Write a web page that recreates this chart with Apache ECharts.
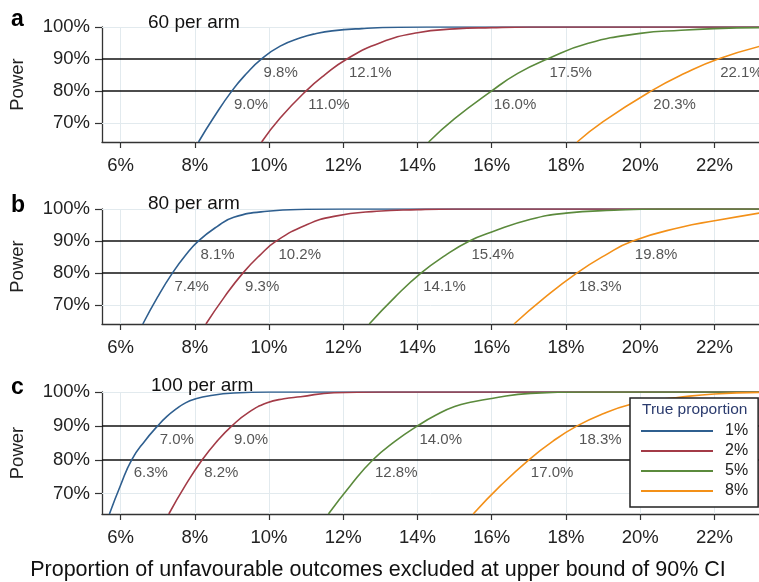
<!DOCTYPE html>
<html><head><meta charset="utf-8">
<script src="https://cdn.jsdelivr.net/npm/echarts@6/dist/echarts.min.js"></script>
<style>html,body{margin:0;padding:0;background:#fff}#c{width:759px;height:582px}</style>
</head><body><div id="c"></div><script>
const proportions = ['1%', '2%', '5%', '8%'];
const colors = ['#2f5f8f', '#a33b47', '#5b8a3c', '#f39018'];
const xTicks = [6, 8, 10, 12, 14, 16, 18, 20, 22];
const yTicks = [70, 80, 90, 100];
const refLines = [80, 90];
const panelTitles = ['60 per arm', '80 per arm', '100 per arm'];
const panelLetters = ['a', 'b', 'c'];
const xTitle = 'Proportion of unfavourable outcomes excluded at upper bound of 90% CI';
const yTitle = 'Power';
const legendTitle = 'True proportion';

// Panel a: 60 per arm
const a1X = [8.1, 8.5, 9.0, 9.4, 9.8, 10.3, 10.85, 11.25, 11.7, 12.5, 13.5, 15.0, 23.3];
const a1Y = [64, 71.5, 80, 85.5, 90, 94, 96.6, 97.9, 98.8, 99.5, 99.9, 100, 100];
const a2X = [9.8, 10.3, 11.0, 11.5, 12.1, 13.0, 14.0, 15.0, 16.0, 17.0, 23.3];
const a2Y = [64, 71.5, 80, 85, 90, 95.1, 98.2, 99.4, 99.8, 100, 100];
const a5X = [14.3, 15.0, 16.0, 16.7, 17.5, 18.6, 20.0, 21.1, 22.0, 23.3];
const a5Y = [64, 71.3, 80, 85.5, 90, 94.9, 98, 99, 99.5, 99.8];
const a8X = [18.3, 19.0, 20.3, 21.2, 22.1, 23.3];
const a8Y = [64, 70.4, 80, 85.5, 90, 94.2];
const a80 = [9.0, 11.0, 16.0, 20.3];
const a90 = [9.8, 12.1, 17.5, 22.1];

// Panel b: 80 per arm
const b1X = [6.6, 7.0, 7.4, 7.75, 8.1, 8.6, 9.05, 9.95, 11.0, 12.0, 23.3];
const b1Y = [64, 72.5, 80, 85.5, 90, 94.5, 97.4, 99.3, 99.9, 100, 100];
const b2X = [8.3, 8.8, 9.3, 9.75, 10.2, 11.0, 11.75, 12.9, 14.0, 15.0, 23.3];
const b2Y = [64, 72.5, 80, 85.5, 90, 95, 97.7, 99.3, 99.8, 100, 100];
const b5X = [12.7, 13.4, 14.1, 14.75, 15.4, 16.0, 17.05, 18.0, 19.3, 20.5, 23.3];
const b5Y = [64, 72.5, 80, 85.5, 90, 92.8, 96.8, 98.7, 99.6, 100, 100];
const b8X = [16.6, 17.4, 18.3, 19.05, 19.8, 21.1, 22.0, 23.3];
const b8Y = [64, 72, 80, 85.5, 90, 94.3, 96.3, 98.9];
const b80 = [7.4, 9.3, 14.1, 18.3];
const b90 = [8.1, 10.2, 15.4, 19.8];

// Panel c: 100 per arm
const c1X = [5.7, 6.0, 6.3, 6.65, 7.0, 7.25, 7.5, 7.75, 8.0, 8.4, 9.05, 10.0, 23.3];
const c1Y = [64, 72.5, 80, 85.5, 90, 92.8, 95, 96.8, 97.9, 98.9, 99.7, 100, 100];
const c2X = [7.3, 7.75, 8.2, 8.6, 9.0, 9.45, 9.95, 10.4, 10.85, 11.75, 13.0, 23.3];
const c2Y = [64, 72.5, 80, 85.5, 90, 94.0, 96.8, 98.0, 98.6, 99.8, 100, 100];
const c5X = [11.6, 12.2, 12.8, 13.4, 14.0, 14.5, 15.0, 15.5, 16.0, 17.05, 18.5, 23.3];
const c5Y = [64, 72.5, 80, 85.5, 90, 93.2, 95.7, 97.1, 98.1, 99.6, 100, 100];
const c8X = [15.5, 16.25, 17.0, 17.65, 18.3, 19.0, 19.75, 20.4, 21.0, 22.0, 23.3];
const c8Y = [64, 72.5, 80, 85.5, 90, 93.6, 96.4, 97.6, 98.4, 99.4, 99.9];
const c80 = [6.3, 8.2, 12.8, 17.0];
const c90 = [7.0, 9.0, 14.0, 18.3];

const panels = [
  { xs: [a1X, a2X, a5X, a8X], ys: [a1Y, a2Y, a5Y, a8Y], c80: a80, c90: a90 },
  { xs: [b1X, b2X, b5X, b8X], ys: [b1Y, b2Y, b5Y, b8Y], c80: b80, c90: b90 },
  { xs: [c1X, c2X, c5X, c8X], ys: [c1Y, c2Y, c5Y, c8Y], c80: c80, c90: c90 }
];

const FONT = '"Liberation Sans", Arial, Helvetica, sans-serif';
const gridTops = [27, 209, 392];
const gridHeights = [115, 115, 122];
const letterY = [21.5, 207, 389];
const titleY = [22.6, 203.4, 386];
const titleX = [148, 148, 151];

const grids = [], xAxes = [], yAxes = [], series = [], graphics = [];
panels.forEach((p, i) => {
  grids.push({ left: 102, right: 0, top: gridTops[i], height: gridHeights[i] });
  xAxes.push({
    type: 'value', gridIndex: i, min: 5.5, max: 23.2,
    axisLine: { show: true, lineStyle: { color: '#333', width: 1.3 } },
    axisTick: { show: true, customValues: xTicks, length: 6, lineStyle: { color: '#333', width: 1.2 } },
    axisLabel: { customValues: xTicks, formatter: v => v + '%', fontSize: 18.5, color: '#222', fontFamily: FONT, margin: 14 },
    splitLine: { show: false }
  });
  yAxes.push({
    type: 'value', gridIndex: i, min: 64, max: 100,
    axisLine: { show: true, lineStyle: { color: '#333', width: 1.3 } },
    axisTick: { show: true, customValues: yTicks, length: 7, lineStyle: { color: '#333', width: 1.2 } },
    axisLabel: { customValues: yTicks, formatter: v => v + '%', fontSize: 18.5, color: '#222', fontFamily: FONT, margin: 12 },
    splitLine: { show: false }
  });
  const gridData = xTicks.map(v => ({ xAxis: v, lineStyle: { color: '#e2eaee', width: 1, type: 'solid' } }))
    .concat([70, 100].map(v => ({ yAxis: v, lineStyle: { color: '#e2eaee', width: 1, type: 'solid' } })))
    .concat(refLines.map(v => ({ yAxis: v, lineStyle: { color: '#111', width: 1.6, type: 'solid' } })));
  series.push({
    type: 'scatter', xAxisIndex: i, yAxisIndex: i, z: 1, silent: true,
    symbolSize: 0,
    data: p.c80.map(v => [v, 80]).concat(p.c90.map(v => [v, 90])),
    label: {
      show: true, position: [2, 6], formatter: d => d.value[0].toFixed(1) + '%',
      fontSize: 15, color: '#2a2a2a', fontFamily: FONT
    },
    markLine: { z: 1, silent: true, symbol: ['none', 'none'], label: { show: false }, animation: false, data: gridData }
  });
  proportions.forEach((name, k) => {
    series.push({
      name, type: 'line', xAxisIndex: i, yAxisIndex: i, z: 3,
      data: p.xs[k].map((x, j) => [x, p.ys[k][j]]),
      smooth: 0.5, symbol: 'none', showSymbol: false,
      color: colors[k], lineStyle: { color: colors[k], width: 1.6 },
      emphasis: { disabled: true }
    });
  });
  graphics.push({ type: 'text', left: 11, top: letterY[i] - 13, style: { text: panelLetters[i], font: 'bold 23px ' + FONT, fill: '#000' } });
  graphics.push({ type: 'text', x: titleX[i], y: titleY[i], style: { text: panelTitles[i], font: '19px ' + FONT, fill: '#111', textVerticalAlign: 'middle' }, z: 10 });
  graphics.push({
    type: 'text', x: 18, y: gridTops[i] + gridHeights[i] / 2, rotation: Math.PI / 2,
    style: { text: yTitle, font: '18.5px ' + FONT, fill: '#222', textAlign: 'center', textVerticalAlign: 'middle' }
  });
});
graphics.push({ type: 'text', x: 378, y: 570, style: { text: xTitle, font: '21.5px ' + FONT, fill: '#111', textAlign: 'center', textVerticalAlign: 'middle' } });
graphics.push({ type: 'text', x: 642, y: 410, z: 100, style: { text: legendTitle, font: '15.5px ' + FONT, fill: '#2b3b6e', textVerticalAlign: 'middle' } });

const chart = echarts.init(document.getElementById('c'), null, { renderer: 'canvas' });
chart.setOption({
  animation: false,
  backgroundColor: '#fff',
  grid: grids, xAxis: xAxes, yAxis: yAxes, series,
  legend: {
    data: proportions, orient: 'vertical', left: 630, top: 398,
    padding: [23, 10, 6, 11], itemGap: 0, itemWidth: 72, itemHeight: 2, icon: 'rect',
    backgroundColor: '#fff', borderColor: '#222', borderWidth: 1.5, borderRadius: 0,
    selectedMode: false, z: 20,
    textStyle: { fontSize: 16, lineHeight: 20, color: '#222', fontFamily: FONT, padding: [0, 0, 0, 7] }
  },
  graphic: graphics
});
</script></body></html>
